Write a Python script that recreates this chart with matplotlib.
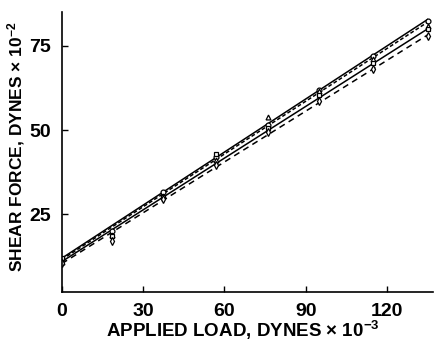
import numpy as np
import matplotlib.pyplot as plt

# load points (dynes x 10^-3)
load = [0, 18.5, 37.5, 57, 76, 95, 115, 135]

# fitted lines: intercept, end value at x=135
line_solid_upper = [12.0, 82.8]
line_dash_upper = [11.6, 82.0]
line_solid_lower = [11.0, 80.0]
line_dash_lower = [10.4, 78.2]

# measured shear force per series
circles = [11.5, 20.0, 31.5, 42.0, 51.5, 62.0, 72.0, 82.5]
triangles = [11.0, 19.0, 30.5, 41.0, 54.0, 61.5, 71.0, 81.0]
squares = [12.0, 18.5, 30.0, 43.0, 50.5, 60.5, 70.0, 80.0]
diamonds = [10.5, 17.0, 29.5, 39.5, 49.5, 58.5, 68.0, 78.0]

plt.rcParams['font.family'] = ['Liberation Sans', 'DejaVu Sans']
plt.rcParams['mathtext.fontset'] = 'custom'
plt.rcParams['mathtext.rm'] = 'Liberation Sans:bold'
plt.rcParams['mathtext.bf'] = 'Liberation Sans:bold'
plt.rcParams['mathtext.default'] = 'bf'
fig = plt.figure(figsize=(4.36, 3.45), dpi=100)
ax = fig.add_axes([0.142, 0.154, 0.851, 0.811])

xs = np.array([0, 135])
for (a, b), ls in [(line_solid_upper, '-'), (line_dash_upper, (0, (2.5, 1.5))),
                   (line_solid_lower, '-'), (line_dash_lower, (0, (4, 3)))]:
    ax.plot(xs, [a, b], color='black', lw=1.1, linestyle=ls)

ax.plot(load, circles, 'o', mfc='white', mec='black', ms=3.5, mew=0.9)
ax.plot(load, triangles, '^', mfc='white', mec='black', ms=3.5, mew=0.9)
ax.plot(load, squares, 's', mfc='white', mec='black', ms=3, mew=0.9)
ax.plot(load, diamonds, 'd', mfc='white', mec='black', ms=4, mew=0.9)

ax.set_xlim(0, 137)
ax.set_ylim(2, 85)
ax.set_xticks([0, 30, 60, 90, 120])
ax.set_yticks([25, 50, 75])
ax.tick_params(direction='in', length=4, width=1, pad=8)
for lab in ax.get_xticklabels() + ax.get_yticklabels():
    lab.set_fontweight('bold')
    lab.set_fontsize(14)
    lab.set_family(['Liberation Sans Narrow', 'Liberation Sans'])
ax.spines['top'].set_visible(False)
ax.spines['right'].set_visible(False)
ax.spines['left'].set_linewidth(1.2)
ax.spines['bottom'].set_linewidth(1.2)

ax.set_xlabel('APPLIED LOAD, DYNES \u00d7 10$^{-3}$', fontsize=13.5,
              fontweight='bold', va='baseline')
ax.xaxis.set_label_coords(0.487, -0.163)
ax.set_ylabel('SHEAR FORCE, DYNES \u00d7 10$^{-2}$', fontsize=12.5,
              fontweight='bold')
ax.yaxis.set_label_coords(-0.094, 0.52)

fig.savefig('out.png', dpi=100)
